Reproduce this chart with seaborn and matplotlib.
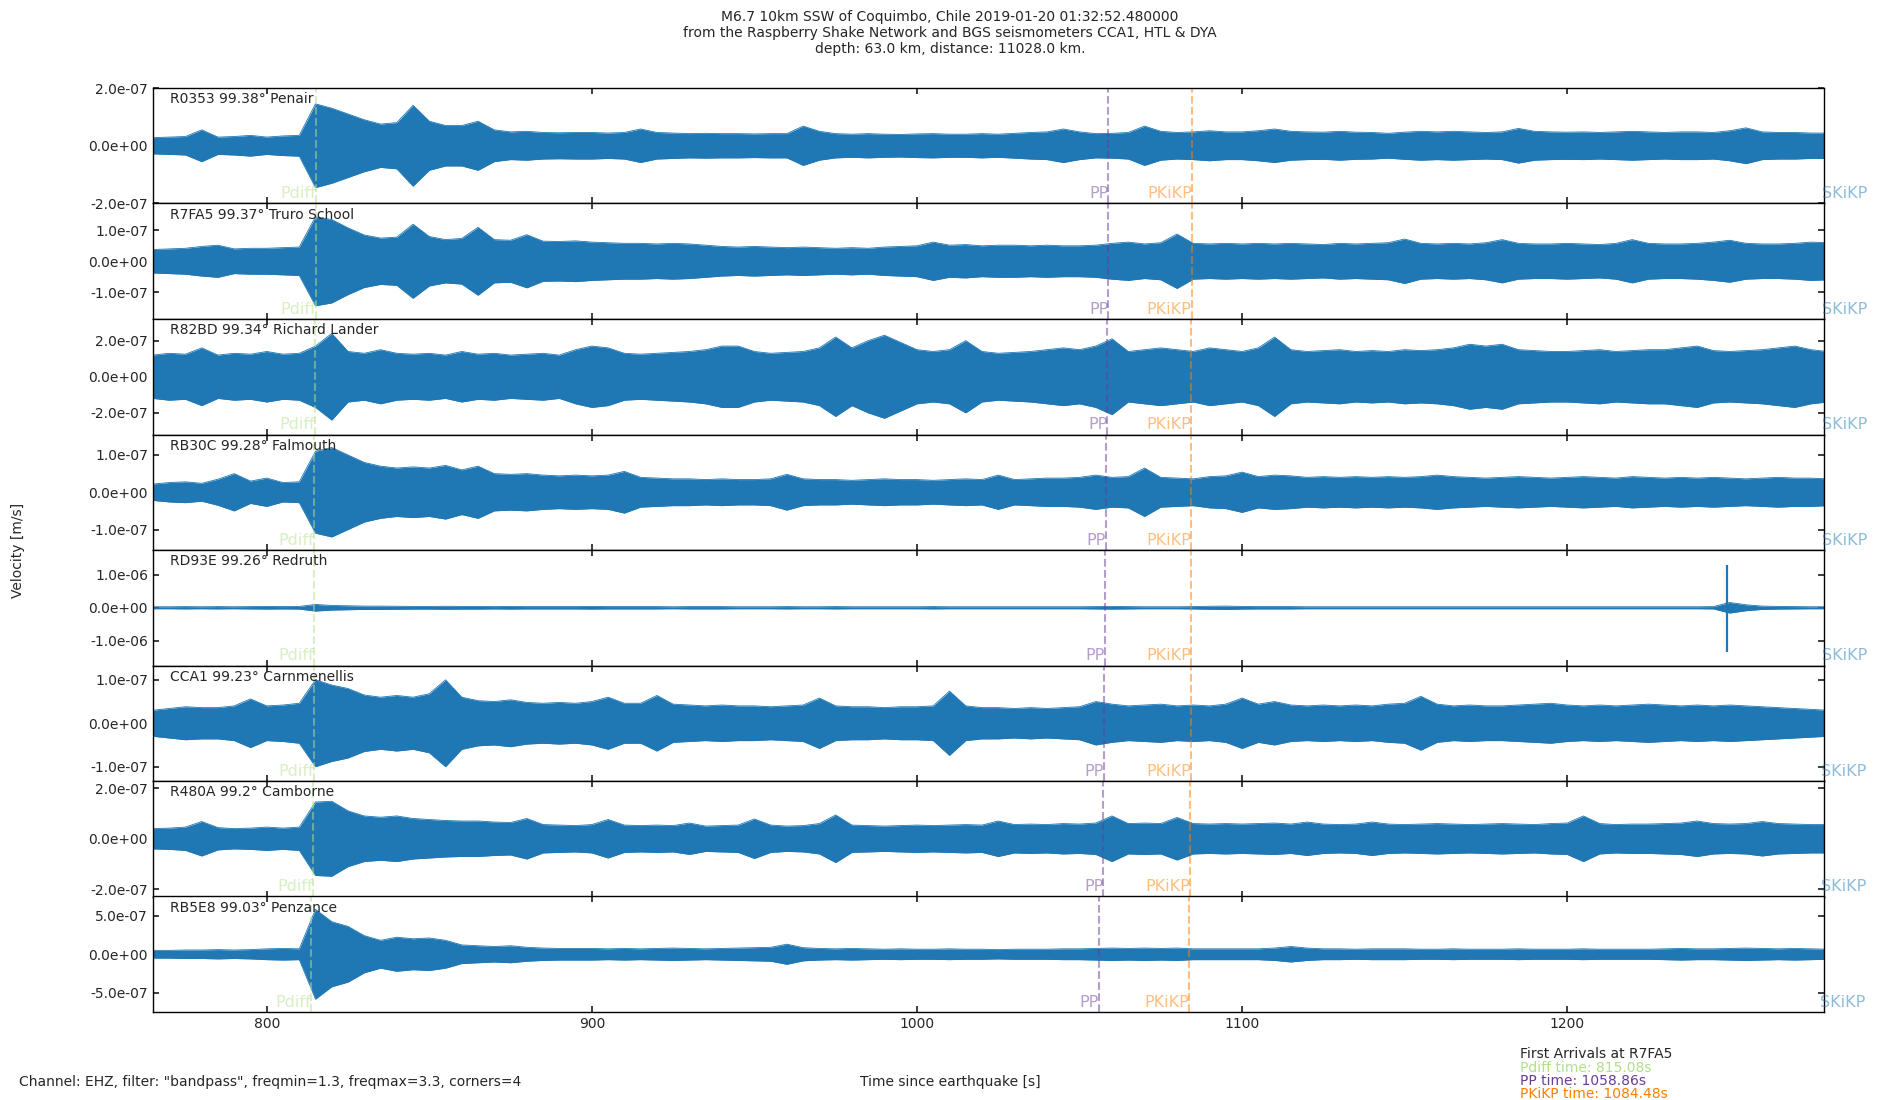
import numpy as np
import matplotlib
matplotlib.use("Agg")
import matplotlib.pyplot as plt
from matplotlib.ticker import FormatStrFormatter
import seaborn as sns

# styling...
sns.set_theme(style="ticks", rc={"axes.edgecolor": "black", "xtick.direction": "in",
                                 "ytick.direction": "in", "axes.linewidth": 1.0})
plt.rcParams["font.family"] = ["DejaVu Sans"]
plt.rcParams["font.size"] = 10
plt.rcParams["xtick.labelsize"] = 10
plt.rcParams["ytick.labelsize"] = 10

# stations (top to bottom)
stations = ["R0353", "R7FA5", "R82BD", "RB30C", "RD93E", "CCA1", "R480A", "RB5E8"]
distances = ["99.38", "99.37", "99.34", "99.28", "99.26", "99.23", "99.2", "99.03"]
places = ["Penair", "Truro School", "Richard Lander", "Falmouth", "Redruth",
          "Carnmenellis", "Camborne", "Penzance"]

# phase arrival times per station [s]
pdiff_times = [815.1, 815.08, 814.9, 814.6, 814.5, 814.4, 814.2, 813.5]
pp_times = [1058.9, 1058.86, 1058.5, 1058.0, 1057.8, 1057.5, 1057.3, 1056.0]
pkikp_times = [1084.5, 1084.48, 1084.4, 1084.3, 1084.3, 1084.2, 1084.1, 1083.8]
skikp_times = [1292.4, 1292.4, 1292.3, 1292.2, 1292.2, 1292.1, 1292.0, 1291.6]

# y range and tick step per panel [m/s]
y_spans = [2.0e-7, 1.87e-7, 3.2e-7, 1.55e-7, 1.75e-6, 1.33e-7, 2.28e-7, 7.46e-7]
y_steps = [2e-7, 1e-7, 2e-7, 1e-7, 1e-6, 1e-7, 2e-7, 5e-7]

# envelope of each trace, read every 5 s from 765 s to 1280 s, in 1e-8 m/s
times = np.arange(765, 1281, 5)
env_R0353 = [2.8, 3.0, 3.2, 5.5, 3.0, 3.2, 3.6, 3.0, 3.4, 3.6,
             14.5, 13.0, 11.0, 9.0, 7.5, 8.0, 14.0, 8.5, 7.0, 7.0,
             8.5, 5.5, 4.8, 5.0, 4.6, 4.5, 4.6, 4.6, 4.4, 4.6,
             5.8, 4.6, 4.4, 4.2, 4.3, 4.2, 4.2, 4.1, 4.2, 4.2,
             6.8, 5.0, 4.2, 4.0, 4.2, 4.0, 3.9, 4.1, 4.2, 4.0,
             4.0, 4.2, 4.0, 4.3, 4.6, 4.8, 5.8, 4.8, 4.2, 4.3,
             4.6, 6.8, 5.0, 4.6, 4.8, 5.2, 4.8, 4.8, 5.2, 5.8,
             5.0, 4.8, 4.7, 5.0, 4.7, 4.6, 4.3, 4.7, 5.0, 4.8,
             5.0, 4.8, 4.6, 4.8, 6.0, 5.0, 4.8, 4.7, 4.8, 4.6,
             4.8, 5.0, 4.8, 4.6, 4.8, 4.8, 4.6, 5.2, 6.2, 4.8,
             4.6, 4.6, 4.4, 4.4]
env_R7FA5 = [3.8, 4.0, 4.2, 4.8, 5.2, 4.0, 4.2, 4.2, 4.4, 4.6,
             14.4, 13.5, 10.8, 8.5, 7.5, 7.8, 12.0, 8.0, 7.0, 7.4,
             11.0, 7.0, 6.8, 8.6, 6.5, 6.4, 6.6, 6.2, 6.0, 5.8,
             5.8, 5.6, 5.8, 5.6, 5.2, 4.8, 4.6, 4.8, 4.6, 4.4,
             4.6, 4.4, 4.2, 4.4, 4.2, 4.6, 4.8, 5.0, 6.2, 5.2,
             5.4, 5.0, 5.2, 5.2, 5.0, 5.2, 5.0, 5.0, 5.2, 5.8,
             6.2, 5.6, 6.0, 8.8, 5.8, 5.6, 5.8, 5.6, 5.8, 5.6,
             5.8, 5.6, 5.4, 5.8, 5.6, 5.8, 6.0, 7.2, 5.8, 5.6,
             5.8, 5.6, 6.0, 7.0, 5.8, 5.6, 5.6, 5.8, 5.6, 5.4,
             5.8, 7.0, 5.8, 5.6, 5.6, 5.8, 6.2, 6.8, 5.8, 5.6,
             5.6, 5.8, 6.2, 6.0]
env_R82BD = [12, 13, 12.5, 16, 12, 13, 12.5, 14, 12.5, 13,
             17, 24, 14, 13, 15, 13, 12.5, 13, 12, 14,
             12.5, 13, 12, 12.5, 13, 12, 15, 17, 16, 13,
             12.5, 13, 13.5, 14, 15, 17, 17, 14, 13, 13.5,
             14, 16, 22, 16, 20, 23, 19, 15, 14, 15,
             20, 14, 13, 13.5, 14, 15, 16, 15, 17, 21,
             14, 15, 16, 15, 14, 16, 15, 14, 16, 22,
             15, 14, 14.5, 15, 14, 14.5, 14, 15, 14.5, 15,
             16, 18, 17, 18, 15, 14.5, 14, 14, 14.5, 15,
             14, 14.5, 15, 15, 16, 17, 14.5, 14, 14.5, 15,
             16, 17, 15, 14]
env_RB30C = [2.2, 2.6, 2.8, 2.4, 3.5, 5.0, 3.0, 3.8, 2.6, 2.8,
             11.0, 12.0, 10.0, 8.0, 7.0, 6.5, 6.8, 6.5, 7.2, 6.0,
             7.0, 5.0, 4.8, 5.0, 4.6, 4.4, 4.6, 4.4, 4.6, 5.6,
             4.0, 3.8, 3.6, 3.6, 3.4, 3.6, 3.4, 3.4, 3.6, 4.8,
             3.6, 3.4, 3.4, 3.2, 3.4, 3.6, 3.4, 3.4, 3.2, 3.4,
             3.6, 3.4, 4.6, 3.4, 3.6, 3.8, 3.8, 4.0, 4.6, 4.0,
             4.2, 6.5, 4.0, 3.8, 3.6, 4.2, 4.4, 5.4, 4.2, 4.6,
             4.4, 4.0, 4.2, 4.0, 4.2, 4.0, 4.2, 4.0, 4.2, 4.6,
             4.2, 4.0, 3.8, 4.0, 4.2, 4.0, 3.8, 4.0, 4.2, 4.0,
             3.8, 4.2, 4.0, 3.8, 4.0, 3.8, 4.0, 3.8, 3.6, 3.8,
             4.0, 3.8, 3.8, 3.6]
env_RD93E = [3, 3, 3.5, 3, 3.5, 3, 3.5, 4, 3.5, 4,
             10, 7, 6, 5, 5, 4.5, 4, 4, 4.5, 4,
             4, 3.5, 4, 3.5, 3.5, 3.5, 3.5, 4, 3.5, 3.5,
             3.5, 3.5, 3, 3.5, 3.5, 3.5, 3, 3, 3, 3.5,
             3, 3, 3.5, 3, 3, 3, 3, 3, 3.5, 3,
             3, 3, 3, 3, 3, 3, 3, 3, 3.5, 4,
             3.5, 3, 3, 3, 3.5, 4.5, 5, 4, 3.5, 3.5,
             3.5, 3, 3, 3, 3, 3, 3, 3, 3, 3,
             3, 3, 3, 3, 3, 3, 3, 3, 3, 3,
             3, 3, 3, 3, 3, 3, 3.5, 16, 9, 5,
             4, 3.5, 3, 3]
env_CCA1 = [3.0, 3.4, 3.8, 3.6, 3.6, 4.0, 5.6, 4.0, 4.2, 4.6,
            10.0, 8.8, 8.0, 6.5, 6.0, 6.4, 6.0, 6.8, 10.0, 6.0,
            5.2, 5.0, 5.4, 4.8, 4.6, 4.8, 4.6, 5.0, 6.0, 4.6,
            4.6, 6.4, 4.4, 4.2, 4.0, 4.2, 4.0, 4.0, 3.8, 4.0,
            4.2, 5.8, 4.0, 3.8, 3.8, 3.6, 3.8, 3.8, 4.0, 7.4,
            4.0, 3.6, 3.6, 3.4, 3.6, 3.4, 3.6, 3.8, 5.0, 4.4,
            4.0, 4.2, 4.4, 4.0, 4.2, 4.0, 4.4, 5.8, 4.4, 5.0,
            4.2, 4.0, 4.2, 4.0, 4.2, 4.0, 4.4, 4.6, 6.2, 4.4,
            4.0, 4.2, 4.0, 4.0, 4.2, 4.4, 4.6, 4.2, 4.0, 4.2,
            4.0, 4.2, 4.4, 4.2, 4.0, 4.2, 4.0, 4.2, 4.0, 3.8,
            3.6, 3.4, 3.2, 3.0]
env_R480A = [4.0, 4.2, 4.6, 6.8, 4.4, 4.0, 4.2, 4.6, 4.2, 4.6,
             14.5, 14.8, 11.0, 9.0, 8.5, 9.0, 8.0, 7.6, 7.2, 7.0,
             7.0, 6.6, 6.4, 8.0, 5.6, 5.4, 5.2, 5.6, 7.6, 5.4,
             5.2, 5.4, 5.2, 6.2, 5.0, 5.2, 5.4, 7.8, 5.4, 5.0,
             5.2, 6.0, 9.4, 5.4, 5.2, 5.0, 5.2, 5.4, 5.2, 5.4,
             5.6, 5.4, 7.0, 5.6, 5.8, 5.6, 6.0, 5.8, 6.2, 9.0,
             6.0, 6.2, 6.0, 8.4, 6.0, 5.8, 6.0, 5.8, 6.0, 6.2,
             5.8, 6.6, 5.8, 5.6, 5.8, 6.6, 5.8, 5.6, 5.8, 6.0,
             5.8, 5.6, 5.8, 6.0, 5.8, 5.6, 6.0, 6.2, 9.0, 6.0,
             5.6, 5.8, 5.8, 6.0, 6.2, 7.0, 6.0, 5.8, 6.0, 6.8,
             6.0, 5.8, 5.6, 5.6]
env_RB5E8 = [5, 5, 5.5, 5.5, 6, 5.5, 6, 7, 7.5, 7,
             58, 42, 36, 24, 18, 22, 20, 21, 18, 12,
             11, 10, 11, 9, 8, 7.5, 7.5, 7.5, 7, 7.5,
             7, 7.5, 8, 7.5, 7, 7.5, 8, 8.5, 9, 13,
             8.5, 7.5, 7, 7.5, 7, 6.5, 7, 6.5, 6.5, 7,
             6.5, 6.5, 6, 6.5, 6.5, 6.5, 7, 7, 7.5, 8,
             7.5, 8, 7.5, 8, 7, 7, 7, 7, 7, 8,
             10, 8, 7, 7, 6.5, 7, 7, 7, 6.5, 6.5,
             7, 6.5, 6.5, 6.5, 7, 6.5, 6.5, 6.5, 7, 6.5,
             6.5, 6.5, 6.5, 7, 7.5, 7, 7, 7.5, 8, 7.5,
             7, 7.5, 7, 6.5]
envelopes = [env_R0353, env_R7FA5, env_R82BD, env_RB30C,
             env_RD93E, env_CCA1, env_R480A, env_RB5E8]

# isolated glitch on RD93E: time [s], peak up and down [1e-8 m/s]
spike_station = 4
spike_time = 1249.3
spike_up = 129
spike_down = 135

# phase colours from the Paired palette
paired = sns.color_palette("Paired")
phases = [("Pdiff", pdiff_times, paired[2]), ("PP", pp_times, paired[9]),
          ("PKiKP", pkikp_times, paired[7]), ("SKiKP", skikp_times, paired[1])]
trace_color = "#1f77b4"

fig, axes = plt.subplots(8, 1, sharex=True, figsize=(19, 11), dpi=100)
fig.subplots_adjust(left=0.0805, right=0.96, top=0.92, bottom=0.08, hspace=0)

for i, ax in enumerate(axes):
    env = np.array(envelopes[i]) * 1e-8
    ax.fill_between(times, -env, env, color=trace_color, lw=0)
    sns.lineplot(x=times, y=env, ax=ax, color=trace_color, lw=0.6)
    sns.lineplot(x=times, y=-env, ax=ax, color=trace_color, lw=0.6)
    if i == spike_station:
        ax.vlines(spike_time, -spike_down * 1e-8, spike_up * 1e-8, color=trace_color, lw=1.6)

    for name, tlist, col in phases:
        ax.axvline(tlist[i], color=col, alpha=0.5, ls="--", lw=1.5)
        ax.text(tlist[i], 0.02, name, color=col, alpha=0.5, ha="right", va="bottom",
                fontsize=11.5, transform=ax.get_xaxis_transform())

    ax.text(0.01, 0.965, f"{stations[i]} {distances[i]}° {places[i]}",
            transform=ax.transAxes, ha="left", va="top")

    ax.set_ylim(-y_spans[i], y_spans[i])
    ax.set_yticks([-y_steps[i], 0, y_steps[i]])
    ax.yaxis.set_major_formatter(FormatStrFormatter("%.1e"))
    ax.set_xlim(765, 1279)
    ax.set_ylabel("")
    ax.tick_params(axis="both", direction="in", top=True, right=True, length=4)

axes[-1].set_xticks([800, 900, 1000, 1100, 1200])

fig.suptitle("M6.7 10km SSW of Coquimbo, Chile 2019-01-20 01:32:52.480000\n"
             "from the Raspberry Shake Network and BGS seismometers CCA1, HTL & DYA\n"
             "depth: 63.0 km, distance: 11028.0 km.", y=0.97, va="center", fontsize=10)
fig.text(0.0095, 0.5, "Velocity [m/s]", rotation=90, ha="center", va="center")
fig.text(0.5, 0.0164, "Time since earthquake [s]", ha="center", va="center")
fig.text(0.01, 0.0164, 'Channel: EHZ, filter: "bandpass", freqmin=1.3, freqmax=3.3, corners=4',
         ha="left", va="center")

# first arrivals at R7FA5
fig.text(0.8, 0.0418, f"First Arrivals at {stations[1]}", ha="left", va="center")
fig.text(0.8, 0.0293, f"Pdiff time: {pdiff_times[1]:.2f}s", color=paired[2], ha="left", va="center")
fig.text(0.8, 0.0173, f"PP time: {pp_times[1]:.2f}s", color=paired[9], ha="left", va="center")
fig.text(0.8, 0.0050, f"PKiKP time: {pkikp_times[1]:.2f}s", color=paired[7], ha="left", va="center")

plt.savefig("out.png", dpi=100)
